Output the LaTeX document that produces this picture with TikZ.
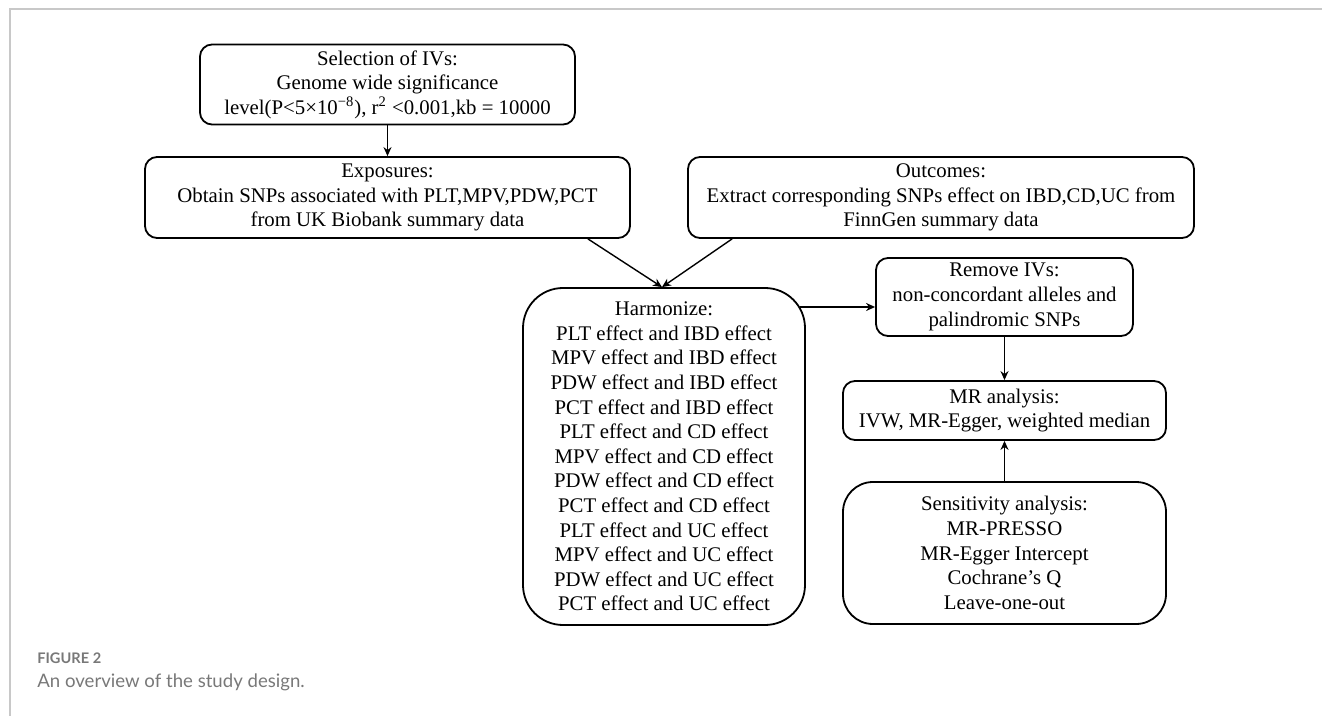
\documentclass[tikz,border=0pt]{standalone}
\usepackage{fontspec}
\setmainfont{Liberation Serif}
\newfontfamily\capfont{Lato}
\usepackage{tikz}
\usetikzlibrary{calc,arrows.meta}

\definecolor{framegray}{RGB}{200,200,200}
\definecolor{capgray}{RGB}{120,120,120}

\tikzset{
  stagebox/.style={draw,line width=0.9pt,rounded corners=6pt,align=center,inner sep=0pt,
    font=\fontsize{10.4}{12.3}\selectfont},
  flow/.style={-{Stealth[length=4.5pt,width=4pt]},line width=0.7pt}
}

\begin{document}
\begin{tikzpicture}[x=0.5pt,y=-0.5pt]
  \useasboundingbox (0,0) rectangle (1322,716);
  \draw[framegray,line width=0.6pt] (1322,9) -- (10,9) -- (10,716);

  % boxes
  \node[stagebox,minimum width=187.5pt,minimum height=40pt] (sel) at (387.5,84.5)
    {Selection of IVs:\\Genome wide significance\\level(P<5×10\textsuperscript{−8}), r\textsuperscript{2} <0.001,kb = 10000};
  \node[stagebox,minimum width=242.5pt,minimum height=40.5pt] (exp) at (387.5,197.5)
    {Exposures:\\Obtain SNPs associated with PLT,MPV,PDW,PCT\\from UK Biobank summary data};
  \node[stagebox,minimum width=253pt,minimum height=40.5pt] (out) at (941,197.5)
    {Outcomes:\\Extract corresponding SNPs effect on IBD,CD,UC from\\FinnGen summary data};
  \node[stagebox,rounded corners=20pt,minimum width=141pt,minimum height=168.5pt] (harm) at (664,456.5)
    {Harmonize:\\PLT effect and IBD effect\\MPV effect and IBD effect\\PDW effect and IBD effect\\PCT effect and IBD effect\\PLT effect and CD effect\\MPV effect and CD effect\\PDW effect and CD effect\\PCT effect and CD effect\\PLT effect and UC effect\\MPV effect and UC effect\\PDW effect and UC effect\\PCT effect and UC effect};
  \node[stagebox,minimum width=128.5pt,minimum height=39pt] (rem) at (1004.5,297)
    {Remove IVs:\\non-concordant alleles and\\palindromic SNPs};
  \node[stagebox,minimum width=161.5pt,minimum height=29.5pt] (mr) at (1004.5,410.5)
    {MR analysis:\\IVW, MR-Egger, weighted median};
  \node[stagebox,rounded corners=15pt,minimum width=161.5pt,minimum height=71pt] (sens) at (1004.5,553)
    {Sensitivity analysis:\\MR-PRESSO\\MR-Egger Intercept\\Cochrane’s Q\\Leave-one-out};

  % connectors
  \draw[flow] (sel.south) -- (exp.north);
  \draw[flow] ($(exp.south east)+(-43,0)$) -- ($(harm.north)+(-2,0)$);
  \draw[flow] ($(out.south west)+(45,0)$) -- ($(harm.north)+(-2,0)$);
  \draw[flow] (800,307) -- (rem.west |- 0,307);
  \draw[flow] (rem.south) -- (mr.north);
  \draw[flow] (sens.north) -- (mr.south);

  % caption
  \node[anchor=base west,inner sep=0pt,text=capgray,font=\capfont\bfseries\fontsize{7.3}{9}\selectfont] (figlab) at (37,663) {FIGURE 2};
  \node[anchor=base west,inner sep=0pt,text=capgray,font=\capfont\fontsize{9.3}{11}\selectfont] (figcap) at (37,687) {An overview of the study design.};
\end{tikzpicture}
\end{document}
